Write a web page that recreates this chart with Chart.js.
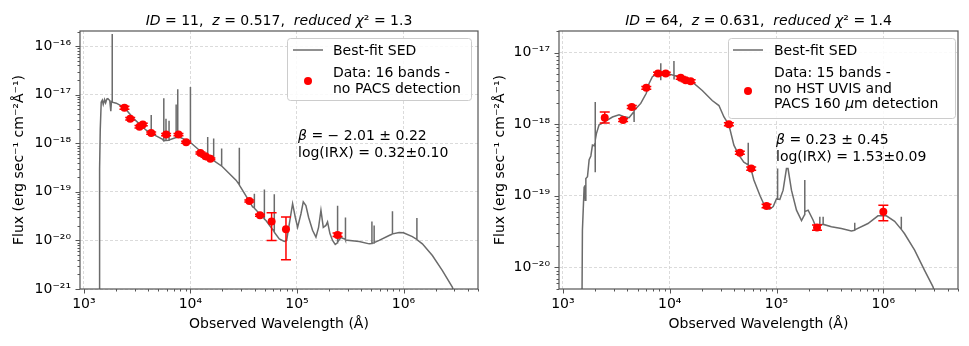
<!DOCTYPE html>
<html>
<head>
<meta charset="utf-8">
<script src="https://cdn.jsdelivr.net/npm/chart.js@4.4.0/dist/chart.umd.min.js"></script>
<style>
  html, body { margin: 0; padding: 0; background: #fff; }
  #wrap { position: relative; width: 969px; height: 346px; }
  canvas { position: absolute; top: 0; }
  #leftChart { left: 0; }
  #rightChart { left: 485px; }
</style>
</head>
<body>
<div id="wrap">
  <canvas id="leftChart" width="485" height="346"></canvas>
  <canvas id="rightChart" width="484" height="346"></canvas>
</div>
<script>
// ---- axis ranges and tick labels
const xMin = 920, xMax = 5e6;
const xPowers = [3, 4, 5, 6];
const xLabels = ['10³', '10⁴', '10⁵', '10⁶'];

const yMinL = 1e-21, yMaxL = 2.05e-16;
const yPowersL = [-21, -20, -19, -18, -17, -16];
const yLabelsL = ['10⁻²¹', '10⁻²⁰', '10⁻¹⁹', '10⁻¹⁸', '10⁻¹⁷', '10⁻¹⁶'];

const yMinR = 5e-21, yMaxR = 2e-17;
const yPowersR = [-20, -19, -18, -17];
const yLabelsR = ['10⁻²⁰', '10⁻¹⁹', '10⁻¹⁸', '10⁻¹⁷'];

// ---- left galaxy (ID 11): best-fit SED
const sedWaveL = [1390, 1405, 1425, 1455, 1490, 1520, 1563, 1600, 1640, 1680, 1750, 1790, 1815,
  1845, 1845, 1847, 2014, 2404, 2985, 3846, 4285, 4285, 4290, 5495, 5623, 5623, 5630,
  5900, 5900, 5905, 6300, 6300, 6305, 7345, 7345, 7350, 7603, 7603, 7610, 7900, 9795,
  10000, 10000, 10010, 12130, 14520, 14520, 14540, 16180, 16520, 16520, 16540,
  19630, 19630, 19650, 26790, 28770, 28770, 28800, 30900, 38370, 39810, 39810, 39850,
  49430, 49430, 49480, 51170, 61240, 61240, 61300, 68230, 76030, 80000, 84760, 91000,
  96400, 101400, 108900, 114600, 121300, 128500, 140000, 150700, 159500, 167900, 176600,
  187000, 193600, 203900, 215800, 228600, 240400, 240400, 240700, 258200, 283800, 283800,
  284200, 287700, 383700, 476400, 504700, 504700, 505400, 529700, 529700, 530400, 590200,
  732800, 787000, 787000, 788000, 909900, 1000000, 1210000, 1334000, 1334000, 1336000,
  1503000, 1866000, 2317000, 2871000, 3300000];
const sedFluxL = [1e-23, 3e-19, 1.9e-18, 7.0e-18, 7.7e-18, 6.3e-18, 7.9e-18, 6.8e-18, 8.1e-18, 8.3e-18, 7.6e-18, 4.6e-18, 7.2e-18,
  7.1e-18, 1.78e-16, 7.0e-18, 6.7e-18, 5.4e-18, 3.1e-18, 1.86e-18, 1.6e-18, 3.8e-18, 1.6e-18, 1.2e-18, 1.12e-18, 8.5e-18, 1.15e-18,
  1.14e-18, 3.2e-18, 1.14e-18, 1.16e-18, 2.9e-18, 1.17e-18, 1.32e-18, 6.3e-18, 1.33e-18, 1.34e-18, 1.29e-17, 1.35e-18, 1.35e-18, 1.07e-18,
  1.05e-18, 1.45e-17, 1.04e-18, 7.2e-19, 5.6e-19, 1.35e-18, 5.6e-19, 4.5e-19, 4.4e-19, 1.26e-18, 4.4e-19,
  3.4e-19, 7.8e-19, 3.4e-19, 1.74e-19, 1.4e-19, 8.1e-19, 1.38e-19, 1.07e-19, 4.9e-20, 4.7e-20, 9.1e-20, 4.6e-20,
  2.8e-20, 1.12e-19, 2.75e-20, 2.57e-20, 1.5e-20, 8.9e-20, 1.48e-20, 1.07e-20, 9.5e-21, 1.0e-20, 2.2e-20, 5.7e-20,
  3.0e-20, 1.86e-20, 3.5e-20, 6.2e-20, 5.2e-20, 3.0e-20, 1.62e-20, 1.17e-20, 1.86e-20, 4.2e-20, 1.86e-20,
  2.04e-20, 2.4e-20, 1.38e-20, 1.0e-20, 8.3e-21, 9.0e-21, 5.2e-20, 9.2e-21, 1.15e-20, 1.05e-20, 2.95e-20,
  1.03e-20, 1.02e-20, 9.5e-21, 8.5e-21, 8.6e-21, 2.45e-20, 8.7e-21, 8.9e-21, 2.04e-20, 9.0e-21, 1.0e-20,
  1.26e-20, 1.35e-20, 4.0e-20, 1.36e-20, 1.45e-20, 1.44e-20, 1.2e-20, 1.05e-20, 2.9e-20, 1.04e-20,
  8.5e-21, 4.9e-21, 2.4e-21, 1.1e-21, 4e-22];

// left galaxy photometry (16 bands)
const obsWaveL = [2404, 2723, 3327, 3573, 4284, 5916, 7727, 9120, 12420, 13840, 15390, 35730, 44980, 57810, 78850, 240400];
const obsFluxL = [5.4e-18, 3.2e-18, 2.2e-18, 2.45e-18, 1.62e-18, 1.51e-18, 1.51e-18, 1.05e-18, 6.3e-19, 5.4e-19, 4.8e-19, 6.5e-20, 3.3e-20, 2.46e-20, 1.7e-20, 1.3e-20];
const obsLoL = [5.0e-18, 3.0e-18, 2.07e-18, 2.3e-18, 1.53e-18, 1.43e-18, 1.43e-18, 1.0e-18, 6.0e-19, 5.15e-19, 4.6e-19, 6.2e-20, 3.15e-20, 1.0e-20, 4.0e-21, 1.2e-20];
const obsHiL = [5.8e-18, 3.4e-18, 2.33e-18, 2.6e-18, 1.71e-18, 1.59e-18, 1.59e-18, 1.1e-18, 6.6e-19, 5.65e-19, 5.0e-19, 6.8e-20, 3.45e-20, 3.7e-20, 3.05e-20, 1.43e-20];

// ---- right galaxy (ID 64): best-fit SED
const sedWaveR = [1495, 1503, 1524, 1581, 1605, 1620, 1641, 1700, 1762, 1828, 1892, 1960, 2005, 2005, 2008, 2015,
  2061, 2183, 2432, 2911, 3357, 3700, 4169, 4500, 4634, 4634, 4640, 4660, 5358, 6039, 6412, 6887, 7400, 7943,
  8241, 8241, 8250, 8270, 9183, 10960, 10960, 10975, 11000, 13120, 16260, 20180, 25000, 28900, 32210, 35810,
  39900, 44460, 49430, 54330, 54330, 54400, 57150, 61380, 69820, 77800, 86500, 93100, 100000, 102300, 102300,
  102500, 107400, 115300, 123900, 128200, 138000, 153800, 171400, 183700, 183700, 184200, 197700, 219800, 236600,
  254100, 254100, 254800, 272900, 272900, 273600, 326600, 404600, 502300, 539500, 539500, 540500, 717800,
  891300, 1067000, 1276000, 1472000, 1472000, 1475000, 1581000, 1963000, 2432000, 2911000, 3300000];
const sedFluxR = [1e-23, 1e-21, 3.3e-20, 1.32e-19, 1.4e-19, 8.7e-20, 1.74e-19, 1.85e-19, 3.2e-19, 3.6e-19, 5.1e-19, 5.0e-19, 5.5e-19, 2.04e-18, 2.14e-19, 6.0e-19,
  7.4e-19, 9.8e-19, 1.07e-18, 1.26e-18, 1.35e-18, 1.28e-18, 1.23e-18, 1.42e-18, 1.5e-18, 1.85e-18, 1.07e-18, 1.55e-18, 1.95e-18, 2.7e-18, 3.7e-18, 4.6e-18, 4.9e-18, 5.1e-18,
  5.1e-18, 7.1e-18, 4.1e-18, 5.1e-18, 5.2e-18, 4.8e-18, 7.6e-18, 4.3e-18, 4.8e-18, 4.57e-18, 3.9e-18, 2.95e-18, 2.14e-18, 1.82e-18, 1.26e-18, 9.8e-19,
  5.1e-19, 3.7e-19, 2.95e-19, 2.7e-19, 5.5e-19, 2.65e-19, 2.5e-19, 1.66e-19, 1.02e-19, 7.1e-20, 6.5e-20, 7.1e-20, 9.1e-20, 9.1e-20, 2.4e-19,
  9.0e-20, 8.9e-20, 1.2e-19, 2.4e-19, 2.4e-19, 1.2e-19, 6.3e-20, 4.5e-20, 5.5e-20, 1.66e-19, 6.0e-20, 6.3e-20, 4.6e-20, 3.5e-20,
  3.9e-20, 5.1e-20, 3.9e-20, 4.0e-20, 5.1e-20, 4.0e-20, 3.7e-20, 3.5e-20, 3.24e-20, 3.3e-20, 4.2e-20, 3.35e-20, 4.1e-20,
  5.25e-20, 5.25e-20, 4.4e-20, 3.4e-20, 5.1e-20, 3.4e-20, 2.95e-20, 1.74e-20, 9.1e-21, 5.4e-21, 3e-21];

// right galaxy photometry (15 bands)
const obsWaveR = [2466, 3664, 4415, 6040, 7780, 9180, 12680, 14120, 15710, 35810, 45380, 57940, 80700, 239400, 1000000];
const obsFluxR = [1.23e-18, 1.14e-18, 1.74e-18, 3.22e-18, 5.1e-18, 5.1e-18, 4.44e-18, 4.1e-18, 3.98e-18, 1.0e-18, 4.0e-19, 2.4e-19, 7.2e-20, 3.6e-20, 6.0e-20];
const obsLoR = [1.04e-18, 1.09e-18, 1.66e-18, 3.07e-18, 4.87e-18, 4.87e-18, 4.24e-18, 3.92e-18, 3.8e-18, 0.95e-18, 3.8e-19, 2.28e-19, 6.8e-20, 3.3e-20, 4.5e-20];
const obsHiR = [1.48e-18, 1.19e-18, 1.82e-18, 3.37e-18, 5.33e-18, 5.33e-18, 4.64e-18, 4.28e-18, 4.16e-18, 1.05e-18, 4.2e-19, 2.52e-19, 7.6e-20, 3.9e-20, 7.4e-20];

// ---- texts
const titleL = [['ID', 1], [' = 11,  ', 0], ['z', 1], [' = 0.517,  ', 0], ['reduced ', 1], ['χ', 1], ['²', 0], [' = 1.3', 0]];
const titleR = [['ID', 1], [' = 64,  ', 0], ['z', 1], [' = 0.631,  ', 0], ['reduced ', 1], ['χ', 1], ['²', 0], [' = 1.4', 0]];
const legendL = [[['Best-fit SED', 0]], [['Data: 16 bands -', 0]], [['no PACS detection', 0]]];
const legendR = [[['Best-fit SED', 0]], [['Data: 15 bands -', 0]], [['no HST UVIS and', 0]], [['PACS 160 ', 0], ['μ', 1], ['m detection', 0]]];
const notesL = [[['β', 1], [' = − 2.01 ± 0.22', 0]], [['log(IRX) = 0.32±0.10', 0]]];
const notesR = [[['β', 1], [' = 0.23 ± 0.45', 0]], [['log(IRX) = 1.53±0.09', 0]]];

const FONT = '"DejaVu Sans", sans-serif';
const SED_KLEUR = '#6b6b6b';
const RAND_KLEUR = '#555';

Chart.defaults.font.family = FONT;
Chart.defaults.font.size = 14;
Chart.defaults.color = '#000';

// 1..9 x 10^n ticks inside a range
function logTicks(min, max) {
    const out = [];
    for (let p = Math.floor(Math.log10(min)); p <= Math.ceil(Math.log10(max)); p++) {
        for (let k = 1; k <= 9; k++) {
            const v = k * Math.pow(10, p);
            if (v >= min * 0.999 && v <= max * 1.001) out.push(v);
        }
    }
    return out;
}

function majorIndex(v, powers) {
    const lg = Math.log10(v);
    return powers.findIndex(p => Math.abs(lg - p) < 1e-6);
}

function richText(ctx, parts, x, y, align) {
    const fontFor = it => (it ? 'italic ' : '') + '14px ' + FONT;
    let w = 0;
    parts.forEach(([t, it]) => { ctx.font = fontFor(it); w += ctx.measureText(t).width; });
    let cx = align === 'center' ? x - w / 2 : x;
    parts.forEach(([t, it]) => {
        ctx.font = fontFor(it);
        ctx.fillText(t, cx, y);
        cx += ctx.measureText(t).width;
    });
}

// frame, minor/major tick marks, error bars, legend, title and notes
const sedDecor = {
    id: 'sedDecor',
    afterDatasetDraw(chart, args, opts) {
        if (args.index !== 1) return;
        const { ctx, scales: { x, y } } = chart;
        ctx.save();
        ctx.strokeStyle = 'red';
        ctx.lineWidth = 1.5;
        opts.wave.forEach((w, i) => {
            const px = x.getPixelForValue(w);
            const lo = y.getPixelForValue(opts.lo[i]);
            const hi = y.getPixelForValue(opts.hi[i]);
            ctx.beginPath();
            ctx.moveTo(px, lo); ctx.lineTo(px, hi);
            ctx.moveTo(px - 5, lo); ctx.lineTo(px + 5, lo);
            ctx.moveTo(px - 5, hi); ctx.lineTo(px + 5, hi);
            ctx.stroke();
        });
        ctx.restore();
    },
    afterDraw(chart, args, opts) {
        const { ctx, chartArea: a, scales: { x, y } } = chart;
        ctx.save();

        // axes frame
        ctx.strokeStyle = RAND_KLEUR;
        ctx.lineWidth = 1.2;
        ctx.strokeRect(a.left, a.top, a.right - a.left, a.bottom - a.top);

        // tick marks
        ctx.lineWidth = 1;
        ctx.beginPath();
        x.ticks.forEach(t => {
            const px = Math.round(x.getPixelForValue(t.value)) + 0.5;
            const len = majorIndex(t.value, opts.xPowers) >= 0 ? 4.5 : 2.5;
            ctx.moveTo(px, a.bottom); ctx.lineTo(px, a.bottom + len);
        });
        y.ticks.forEach(t => {
            const py = Math.round(y.getPixelForValue(t.value)) + 0.5;
            const len = majorIndex(t.value, opts.yPowers) >= 0 ? 4.5 : 2.5;
            ctx.moveTo(a.left, py); ctx.lineTo(a.left - len, py);
        });
        ctx.stroke();

        // title
        ctx.fillStyle = '#000';
        ctx.textBaseline = 'alphabetic';
        richText(ctx, opts.title, (a.left + a.right) / 2, 25, 'center');

        // legend
        const lg = opts.legend;
        ctx.fillStyle = 'rgba(255,255,255,0.85)';
        ctx.strokeStyle = '#cccccc';
        ctx.lineWidth = 1;
        ctx.beginPath();
        ctx.roundRect(lg.box[0] + 0.5, lg.box[1] + 0.5, lg.box[2] - lg.box[0], lg.box[3] - lg.box[1], 3);
        ctx.fill();
        ctx.stroke();

        ctx.strokeStyle = SED_KLEUR;
        ctx.lineWidth = 1.5;
        ctx.beginPath();
        ctx.moveTo(lg.lineX[0], lg.lineY); ctx.lineTo(lg.lineX[1], lg.lineY);
        ctx.stroke();

        ctx.fillStyle = 'red';
        ctx.beginPath();
        ctx.arc(lg.dot[0], lg.dot[1], 4, 0, Math.PI * 2);
        ctx.fill();

        ctx.fillStyle = '#000';
        opts.legendText.forEach((line, i) => richText(ctx, line, lg.textX, lg.baselines[i], 'left'));

        // beta / IRX note
        opts.notes.forEach((line, i) => richText(ctx, line, opts.noteX, opts.noteY[i], 'left'));

        ctx.restore();
    }
};

function makeChart(canvasId, c) {
    const ctx = document.getElementById(canvasId).getContext('2d');
    return new Chart(ctx, {
        type: 'scatter',
        data: {
            datasets: [
                {
                    label: 'Data',
                    data: c.obsWave.map((w, i) => ({ x: w, y: c.obsFlux[i] })),
                    backgroundColor: 'red',
                    borderWidth: 0,
                    pointRadius: 4
                },
                {
                    label: 'Best-fit SED',
                    data: c.sedWave.map((w, i) => ({ x: w, y: c.sedFlux[i] })),
                    showLine: true,
                    borderColor: SED_KLEUR,
                    borderWidth: 1.5,
                    pointRadius: 0,
                    tension: 0
                }
            ]
        },
        options: {
            responsive: false,
            animation: false,
            events: [],
            layout: { padding: { top: 31, right: c.padRight, left: 0, bottom: 0 } },
            plugins: {
                legend: { display: false },
                tooltip: { enabled: false },
                sedDecor: c.decor
            },
            scales: {
                x: {
                    type: 'logarithmic',
                    min: xMin,
                    max: xMax,
                    afterBuildTicks: s => { s.ticks = logTicks(xMin, xMax).map(v => ({ value: v })); },
                    afterFit: s => { s.height = 57; },
                    ticks: {
                        autoSkip: false,
                        maxRotation: 0,
                        minRotation: 0,
                        padding: 7,
                        callback: v => { const k = majorIndex(v, xPowers); return k >= 0 ? xLabels[k] : ''; }
                    },
                    grid: {
                        drawTicks: false,
                        lineWidth: 0.8,
                        color: g => majorIndex(g.tick.value, xPowers) >= 0 ? '#d2d2d2' : 'rgba(0,0,0,0)'
                    },
                    border: { display: false, dash: [3, 2] },
                    title: { display: true, text: 'Observed Wavelength (Å)', padding: { top: 0, bottom: 13 } }
                },
                y: {
                    type: 'logarithmic',
                    min: c.yMin,
                    max: c.yMax,
                    afterBuildTicks: s => { s.ticks = logTicks(c.yMin, c.yMax).map(v => ({ value: v })); },
                    afterFit: s => { s.width = c.yWidth; },
                    ticks: {
                        autoSkip: false,
                        padding: 9,
                        callback: v => { const k = majorIndex(v, c.yPowers); return k >= 0 ? c.yLabels[k] : ''; }
                    },
                    grid: {
                        drawTicks: false,
                        lineWidth: 0.8,
                        color: g => majorIndex(g.tick.value, c.yPowers) >= 0 ? '#d2d2d2' : 'rgba(0,0,0,0)'
                    },
                    border: { display: false, dash: [3, 2] },
                    title: { display: true, text: 'Flux (erg sec⁻¹ cm⁻²Å⁻¹)', padding: { top: c.yTitlePad, bottom: 0 } }
                }
            }
        },
        plugins: [sedDecor]
    });
}

makeChart('leftChart', {
    sedWave: sedWaveL, sedFlux: sedFluxL, obsWave: obsWaveL, obsFlux: obsFluxL,
    yMin: yMinL, yMax: yMaxL, yPowers: yPowersL, yLabels: yLabelsL,
    yWidth: 80, padRight: 6, yTitlePad: 11,
    decor: {
        wave: obsWaveL, lo: obsLoL, hi: obsHiL,
        xPowers: xPowers, yPowers: yPowersL,
        title: titleL,
        legendText: legendL,
        legend: { box: [287, 38, 471, 100], lineX: [293, 323], lineY: 50, dot: [308, 81], textX: 333, baselines: [55, 77, 93] },
        notes: notesL, noteX: 298, noteY: [140, 157]
    }
});

makeChart('rightChart', {
    sedWave: sedWaveR, sedFlux: sedFluxR, obsWave: obsWaveR, obsFlux: obsFluxR,
    yMin: yMinR, yMax: yMaxR, yPowers: yPowersR, yLabels: yLabelsR,
    yWidth: 74, padRight: 11, yTitlePad: 7,
    decor: {
        wave: obsWaveR, lo: obsLoR, hi: obsHiR,
        xPowers: xPowers, yPowers: yPowersR,
        title: titleR,
        legendText: legendR,
        legend: { box: [243, 38, 470, 118], lineX: [248, 278], lineY: 50, dot: [263, 91], textX: 289, baselines: [55, 77, 93, 108] },
        notes: notesR, noteX: 291, noteY: [144, 161]
    }
});
</script>
</body>
</html>
